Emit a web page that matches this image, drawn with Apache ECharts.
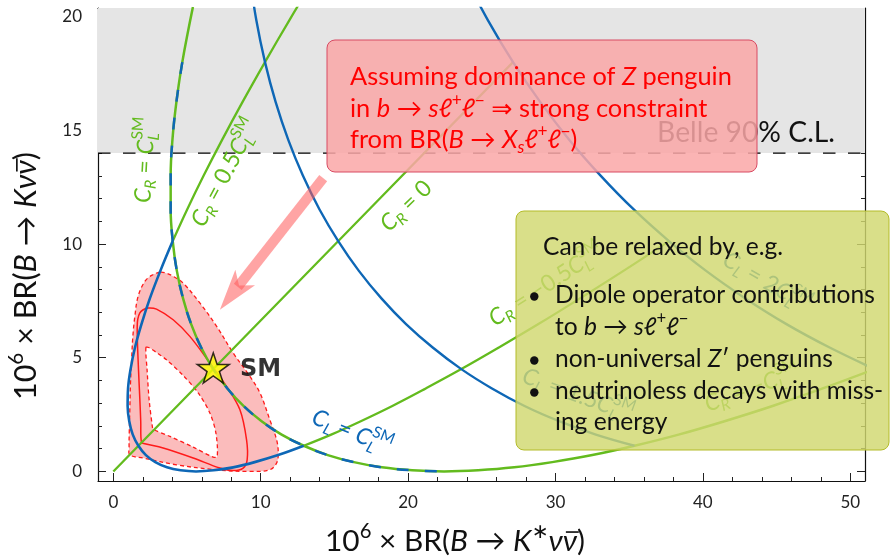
<!DOCTYPE html>
<html><head><meta charset="utf-8">
<script src="https://cdn.jsdelivr.net/npm/echarts@6/dist/echarts.min.js"></script>
<style>html,body{margin:0;padding:0;background:#fff}#c{width:891px;height:557px}</style>
</head><body><div id="c"></div>
<script>
// ---------------- data ----------------
const xTicksMajor = [0, 10, 20, 30, 40, 50];
const xTicksMinor = [0,2,4,6,8,10,12,14,16,18,20,22,24,26,28,30,32,34,36,38,40,42,44,46,48,50];
const yTicksMajor = [0, 5, 10, 15, 20];
const yTicksMinor = [0,1,2,3,4,5,6,7,8,9,10,11,12,13,14,15,16,17,18,19,20];
const belleLimit = 14;
const smPoint = [6.78, 4.55];
// C_R = +-C_L^SM (one continuous curve through SM)
const greenCRpm1 = [[5.40,20.42],[4.68,18.00],[4.28,16.25],[4.01,14.58],[3.89,13.01],[3.89,11.52],[4.03,10.13],[4.31,8.82],[4.73,7.61],[5.28,6.48],[5.96,5.45],[6.78,4.50],[7.74,3.65],[8.83,2.88],[10.06,2.21],[11.42,1.62],[12.92,1.13],[14.55,0.72],[16.32,0.41],[18.22,0.18],[20.27,0.05],[22.44,0.00],[24.75,0.05],[27.20,0.18],[29.78,0.41],[32.50,0.72],[35.36,1.13],[38.35,1.62],[41.47,2.21],[44.73,2.88],[48.13,3.65],[51.66,4.50]];
// C_L = C_L^SM (coincides with part of the curve above, drawn dashed)
const blueCL1 = [[4.68,18.00],[4.28,16.25],[4.01,14.58],[3.89,13.01],[3.89,11.52],[4.03,10.13],[4.31,8.82],[4.73,7.61],[5.28,6.48],[5.96,5.45],[6.78,4.50],[7.74,3.65],[8.83,2.88],[10.06,2.21],[11.42,1.62],[12.92,1.13],[14.55,0.72],[16.32,0.41],[18.22,0.18],[20.27,0.05],[22.44,0.00]];
const greenCR05 = [[4.03,10.13],[5.01,11.52],[6.13,13.01],[7.38,14.58],[8.77,16.25],[10.29,18.00],[11.95,19.85],[12.83,20.80]];
const greenCR0 = [[0,0],[13.56,9.0],[27.12,18.0]];
const greenCRm05 = [[12.92,1.13],[14.78,1.62],[16.79,2.21],[18.93,2.88],[21.20,3.65],[23.61,4.50],[26.16,5.45],[28.84,6.48],[31.66,7.61],[34.61,8.82],[37.70,10.13]];
const blueCL05 = [[4.03,10.13],[3.19,8.82],[2.48,7.61],[1.91,6.48],[1.47,5.45],[1.17,4.50],[1.00,3.65],[0.97,2.88],[1.08,2.21],[1.32,1.62],[1.70,1.13],[2.21,0.72],[2.85,0.41],[3.64,0.18],[4.56,0.05],[5.61,0.00],[6.80,0.05],[8.13,0.18],[9.59,0.41],[11.18,0.72],[12.92,1.13]];
const blueCL15 = [[9.25,21.78],[9.70,19.85],[10.29,18.00],[11.01,16.25],[11.87,14.58],[12.86,13.01],[13.99,11.52],[15.26,10.13],[16.66,8.82],[18.19,7.61],[19.86,6.48],[21.67,5.45],[23.61,4.50],[25.69,3.65],[27.90,2.88],[30.25,2.21],[32.74,1.62],[35.36,1.13]];
const blueCL2 = [[23.84,21.78],[25.41,19.85],[27.12,18.00],[28.96,16.25],[30.94,14.58],[33.06,13.01],[35.31,11.52],[37.70,10.13],[40.22,8.82],[42.88,7.61],[45.67,6.48],[48.60,5.45],[51.66,4.50]];
// allowed-region contours
const contourOuter = [[3.16,8.76],[2.60,8.62],[2.14,8.36],[1.68,7.70],[1.46,6.82],[1.32,5.90],[1.24,4.91],[1.16,3.80],[1.12,2.71],[1.08,1.70],[1.07,1.10],[1.12,0.73],[2.02,0.59],[4.29,0.29],[7.01,0.07],[9.27,0.00],[10.60,0.07],[11.08,0.37],[11.19,0.81],[11.08,1.39],[10.62,2.27],[9.95,3.45],[9.27,4.18],[8.13,5.21],[7.01,6.38],[5.87,7.41],[4.74,8.28],[4.06,8.58],[3.60,8.72]];
const contourMiddle = [[2.36,7.19],[2.00,7.10],[1.80,6.97],[1.66,6.70],[1.62,6.38],[1.64,5.60],[1.68,4.91],[1.74,4.00],[1.80,3.15],[1.86,2.20],[1.91,1.28],[2.14,1.22],[3.38,1.03],[5.42,0.59],[7.23,0.15],[8.13,0.04],[8.81,0.15],[9.08,0.51],[9.04,1.39],[8.59,2.71],[7.68,3.74],[6.55,4.77],[5.19,5.94],[4.06,6.67],[2.93,7.14]];
const contourInner = [[2.21,5.45],[2.40,5.45],[3.00,5.20],[3.61,4.91],[4.74,4.22],[5.76,3.45],[6.55,2.57],[6.96,1.69],[7.05,0.66],[6.78,0.63],[5.42,1.07],[3.84,1.54],[2.70,1.85],[2.66,1.91],[2.43,3.15],[2.29,4.47]];
const arrowPath = [[14.24,12.90],[7.23,7.11]];

// ---------------- helpers ----------------
const FF = "Lato, 'DejaVu Sans', sans-serif";
const GREEN = '#63bb1e', BLUE = '#0e67b6';
const mctx = document.createElement('canvas').getContext('2d');
function fnt(kind, size){
  const it = (kind==='i') ? 'italic' : 'normal';
  const bw = kind==='b' ? 'bold' : 'normal';
  return {fontStyle: it, fontWeight: bw, fontSize: size, fontFamily: FF};
}
function tw(t, f){ mctx.font = f.fontStyle+' '+f.fontWeight+' '+f.fontSize+'px '+FF; return mctx.measureText(t).width; }
function layout(tokens, S, color, z){
  const s = S*0.68; let x = 0; const kids = [];
  const add = (t, kind, size, dy) => {
    const f = fnt(kind, size); const w = tw(t, f);
    kids.push({type:'text', x: x, y: dy, z: z, silent: true,
      style: Object.assign({text: t, fill: color, align:'left', verticalAlign:'middle', textAlign:'left', textVerticalAlign:'middle'}, f)});
    return w;
  };
  for (const [t, kind] of tokens){
    if (kind==='sub') x += add(t, 'i', s, 0.30*S);
    else if (kind==='subn') x += add(t, 'n', s, 0.30*S);
    else if (kind==='sup') x += add(t, 'n', s, -0.33*S);
    else if (kind==='ss'){ const w1 = add(t[0], 'i', s, 0.33*S); const w2 = add(t[1], 'n', s, -0.38*S); x += Math.max(w1, w2); }
    else if (kind==='ibar'){
      const w = add(t, 'i', S, 0);
      kids.push({type:'line', z: z, silent:true, shape:{x1: x+0.22*w, y1: -0.30*S, x2: x+w+0.06*S, y2: -0.30*S}, style:{stroke: color, lineWidth: Math.max(1, S*0.055)}});
      x += w;
    }
    else x += add(t, kind, S, 0);
  }
  return {kids, width: x};
}
function fitSize(tokens, target){ return 100*target/layout(tokens, 100, '#000', 0).width; }
function mathLabel(tokens, o){
  const L = layout(tokens, o.size, o.color, o.z);
  const off = o.anchor==='center' ? -L.width/2 : (o.anchor==='right' ? -L.width : 0);
  L.kids.forEach(k => { if (k.type==='text') k.x += off; else { k.shape.x1 += off; k.shape.x2 += off; } });
  return {type:'group', x: o.x, y: o.y, rotation: (o.rot||0)*Math.PI/180, children: L.kids};
}

// ---------------- text content ----------------
const lblCRp1 = [['C','i'],['R','sub'],[' = ','n'],['C','i'],[['L','SM'],'ss']];
const lblCR05 = [['C','i'],['R','sub'],[' = 0.5','n'],['C','i'],[['L','SM'],'ss']];
const lblCR0 = [['C','i'],['R','sub'],[' = 0','n']];
const lblCL1 = [['C','i'],['L','sub'],[' = ','n'],['C','i'],[['L','SM'],'ss']];
const lblCRm05 = [['C','i'],['R','sub'],[' = −0.5','n'],['C','i'],[['L','SM'],'ss']];
const lblCL2 = [['C','i'],['L','sub'],[' = 2','n'],['C','i'],[['L','SM'],'ss']];
const lblCL15 = [['C','i'],['L','sub'],[' = 1.5','n'],['C','i'],[['L','SM'],'ss']];
const lblCRm1 = [['C','i'],['R','sub'],[' = −','n'],['C','i'],[['L','SM'],'ss']];

const red1 = [['Assuming dominance of ','n'],['Z','i'],[' penguin','n']];
const red2 = [['in ','n'],['b','i'],[' → ','n'],['s','i'],['ℓ','i'],['+','sup'],['ℓ','i'],['−','sup'],[' ⇒ strong constraint','n']];
const red3 = [['from BR(','n'],['B','i'],[' → ','n'],['X','i'],['s','sub'],['ℓ','i'],['+','sup'],['ℓ','i'],['−','sup'],[')','n']];
const grn0 = [['Can be relaxed by, e.g.','n']];
const grn1 = [['Dipole operator contributions','n']];
const grn2 = [['to ','n'],['b','i'],[' → ','n'],['s','i'],['ℓ','i'],['+','sup'],['ℓ','i'],['−','sup']];
const grn3 = [['non-universal ','n'],['Z','i'],['′','n'],[' penguins','n']];
const grn4 = [['neutrinoless decays with miss-','n']];
const grn5 = [['ing energy','n']];
const belleTxt = [['Belle 90% C.L.','n']];
const smTxt = [['SM','b']];
const xTitle = [['10','n'],['6','sup'],[' × BR(','n'],['B','i'],[' → ','n'],['K','i'],['∗','sup'],['ν','i'],['ν','ibar'],[')','n']];
const yTitle = [['10','n'],['6','sup'],[' × BR(','n'],['B','i'],[' → ','n'],['K','i'],['ν','i'],['ν','ibar'],[')','n']];

const SR = fitSize(red1, 382);
const SG = fitSize(grn1, 320);
const SB = fitSize(belleTxt, 178);
const SX = fitSize(xTitle, 260);
const SY = fitSize(yTitle, 248);
const SL = 23;
const mid = (baseline, S) => baseline - 0.32*S;

const graphics = [
  mathLabel(belleTxt, {x: 835, y: mid(141.7, SB), size: SB, color:'#111', anchor:'right', z: 10}),
  mathLabel(xTitle, {x: 455, y: 541, size: SX, color:'#111', anchor:'center', z: 10}),
  mathLabel(yTitle, {x: 26, y: 276, size: SY, color:'#111', anchor:'center', rot: 90, z: 10}),
  mathLabel(lblCRp1, {x: 145, y: 160, size: SL, color: GREEN, anchor:'center', rot: 87, z: 50}),
  mathLabel(lblCR05, {x: 225, y: 173, size: SL, color: GREEN, anchor:'center', rot: 62, z: 50}),
  mathLabel(lblCR0, {x: 406, y: 206, size: SL, color: GREEN, anchor:'center', rot: 44, z: 50}),
  mathLabel(lblCL1, {x: 352, y: 432, size: SL, color: BLUE, anchor:'center', rot: -22, z: 50}),
  mathLabel(lblCRm05, {x: 546, y: 285, size: SL, color: GREEN, anchor:'center', rot: 33, z: 50}),
  mathLabel(lblCL2, {x: 767, y: 282, size: SL, color: BLUE, anchor:'center', rot: -30, z: 50}),
  mathLabel(lblCL15, {x: 578, y: 395, size: SL, color: BLUE, anchor:'center', rot: -20, z: 50}),
  mathLabel(lblCRm1, {x: 752, y: 388, size: SL, color: GREEN, anchor:'center', rot: 20, z: 50}),
  {type:'rect', z: 100, silent:true, shape:{x: 327, y: 40, width: 430, height: 132, r: 8}, style:{fill:'rgba(250,167,167,0.85)', stroke:'#d84a63', lineWidth: 1}},
  mathLabel(red1, {x: 350, y: mid(85, SR), size: SR, color:'#ff0000', z: 101}),
  mathLabel(red2, {x: 350, y: mid(117, SR), size: SR, color:'#ff0000', z: 101}),
  mathLabel(red3, {x: 350, y: mid(148, SR), size: SR, color:'#ff0000', z: 101}),
  {type:'rect', z: 100, silent:true, shape:{x: 516, y: 211, width: 373, height: 239, r: 8}, style:{fill:'rgba(209,216,111,0.82)', stroke:'#b3bb28', lineWidth: 1}},
  mathLabel(grn0, {x: 543, y: mid(255, SG), size: SG, color:'#111', z: 101}),
  mathLabel(grn1, {x: 555, y: mid(303, SG), size: SG, color:'#111', z: 101}),
  mathLabel(grn2, {x: 555, y: mid(335, SG), size: SG, color:'#111', z: 101}),
  mathLabel(grn3, {x: 555, y: mid(367, SG), size: SG, color:'#111', z: 101}),
  mathLabel(grn4, {x: 555, y: mid(399, SG), size: SG, color:'#111', z: 101}),
  mathLabel(grn5, {x: 555, y: mid(430, SG), size: SG, color:'#111', z: 101}),
  {type:'circle', z: 101, silent:true, shape:{cx: 534.3, cy: 296.5, r: 4.2}, style:{fill:'#111'}},
  {type:'circle', z: 101, silent:true, shape:{cx: 534.3, cy: 360.5, r: 4.2}, style:{fill:'#111'}},
  {type:'circle', z: 101, silent:true, shape:{cx: 534.3, cy: 392.5, r: 4.2}, style:{fill:'#111'}}
];

// ---------------- chart ----------------
const chart = echarts.init(document.getElementById('c'), null, {renderer:'canvas'});
const XMIN = -1.04, XMAX = 51, YMIN = -0.42, YMAX = 20.38;
const AX = '#222';
function xAx(pos, ticks, len, labels, line){
  return {type:'value', position: pos, min: XMIN, max: XMAX,
    axisLine:{show: line, onZero:false, lineStyle:{color:'#111', width:1.2}},
    axisTick:{show:true, inside:true, length: len, customValues: ticks, lineStyle:{color: AX, width:1}},
    axisLabel:{show: labels, customValues: xTicksMajor, margin: 13, fontSize: 17, color: AX, fontFamily: FF},
    splitLine:{show:false}, minorTick:{show:false}};
}
function yAx(pos, ticks, len, labels, line){
  return {type:'value', position: pos, min: YMIN, max: YMAX,
    axisLine:{show: line, onZero:false, lineStyle:{color:'#111', width:1.2}},
    axisTick:{show:true, inside:true, length: len, customValues: ticks, lineStyle:{color: AX, width:1}},
    axisLabel:{show: labels, customValues: yTicksMajor, margin: 16, fontSize: 17, color: AX, fontFamily: FF},
    splitLine:{show:false}, minorTick:{show:false}};
}
function curve(data, color, width, z, dash){
  return {type:'line', data: data, z: z, symbol:'none', smooth: 0.4, silent:true, clip:true,
    lineStyle:{color: color, width: width, type: dash || 'solid', cap:'butt'}};
}
const starPath = 'path://M50,0 L61.8,35.1 L98.6,35.1 L68.8,56.8 L80.3,91.9 L50,70.2 L19.7,91.9 L31.2,56.8 L1.4,35.1 L38.2,35.1 Z';

chart.setOption({
  animation: false,
  grid: {left: 98, right: 26, top: 8, bottom: 76, containLabel: false, outerBoundsMode: 'none'},
  xAxis: [xAx('bottom', xTicksMajor, 8, true, true), xAx('bottom', xTicksMinor, 4, false, false),
          xAx('top', xTicksMajor, 8, false, true), xAx('top', xTicksMinor, 4, false, false)],
  yAxis: [yAx('left', yTicksMajor, 8, true, true), yAx('left', yTicksMinor, 4, false, false),
          yAx('right', yTicksMajor, 8, false, true), yAx('right', yTicksMinor, 4, false, false)],
  graphic: graphics,
  series: [
    {type:'line', data: [[XMIN, belleLimit],[XMAX, belleLimit]], z: 1, symbol:'none', silent:true,
      lineStyle:{color:'#000', width:1.2, type:[12.5,12.5]},
      markArea:{silent:true, itemStyle:{color:'#e5e5e5'}, data:[[{yAxis: belleLimit},{yAxis: YMAX}]]}},
    {type:'custom', data:[[0,0]], z: 2, silent:true,
      renderItem: (params, api) => {
        const px = arr => arr.map(p => api.coord(p));
        return {type:'group', children:[
          {type:'polygon', shape:{points: px(contourOuter), smooth: 0.35}, style:{fill:'#fbbcbc', stroke:'#ff1a1a', lineWidth:1.3, lineDash:[4,3]}},
          {type:'polygon', shape:{points: px(contourInner), smooth: 0.3}, style:{fill:'#ffffff', stroke:'#ff1a1a', lineWidth:1.3, lineDash:[4,3]}},
          {type:'polygon', shape:{points: px(contourMiddle), smooth: 0.35}, style:{fill:'none', stroke:'#ff1a1a', lineWidth:1.5}}
        ]};
      }},
    curve(greenCR0, GREEN, 2.3, 3),
    curve(greenCR05, GREEN, 2.3, 3),
    curve(greenCRm05, GREEN, 2.3, 3),
    curve(greenCRpm1, GREEN, 2.5, 3),
    curve(blueCL05, BLUE, 2.6, 4),
    curve(blueCL15, BLUE, 2.4, 4),
    curve(blueCL2, BLUE, 2.4, 4),
    curve(blueCL1, BLUE, 2.5, 4, [12,16]),
    {type:'custom', data:[[0,0]], z: 5, silent:true,
      renderItem: (params, api) => {
        const S = api.coord(arrowPath[0]), T = api.coord(arrowPath[1]);
        const dx = T[0]-S[0], dy = T[1]-S[1], L = Math.hypot(dx, dy);
        const d = [dx/L, dy/L], n = [-d[1], d[0]];
        const P = (a, b) => [T[0]+d[0]*a+n[0]*b, T[1]+d[1]*a+n[1]*b];
        const Q = (b) => [S[0]+n[0]*b, S[1]+n[1]*b];
        const fill = 'rgba(255,90,90,0.55)';
        return {type:'group', children:[
          {type:'polygon', shape:{points:[Q(5), P(-29,5), P(-29,-5), Q(-5)]}, style:{fill: fill}},
          {type:'polygon', shape:{points:[P(0,0), P(-41,12.5), P(-31,0), P(-41,-12.5)]}, style:{fill: fill}}
        ]};
      }},
    {type:'scatter', data:[smPoint], z: 6, silent:true, symbol: starPath, symbolKeepAspect:true, symbolSize: 32,
      itemStyle:{color:'#ffff00', borderColor:'#000', borderWidth:1.5},
      label:{show:true, formatter:'SM', position:'right', distance: 10, offset:[0,2], fontWeight:'bold', fontSize: 24,
        color:'#000', textBorderWidth: 0, fontFamily: "'DejaVu Sans', sans-serif"}}
  ]
});
</script></body></html>
